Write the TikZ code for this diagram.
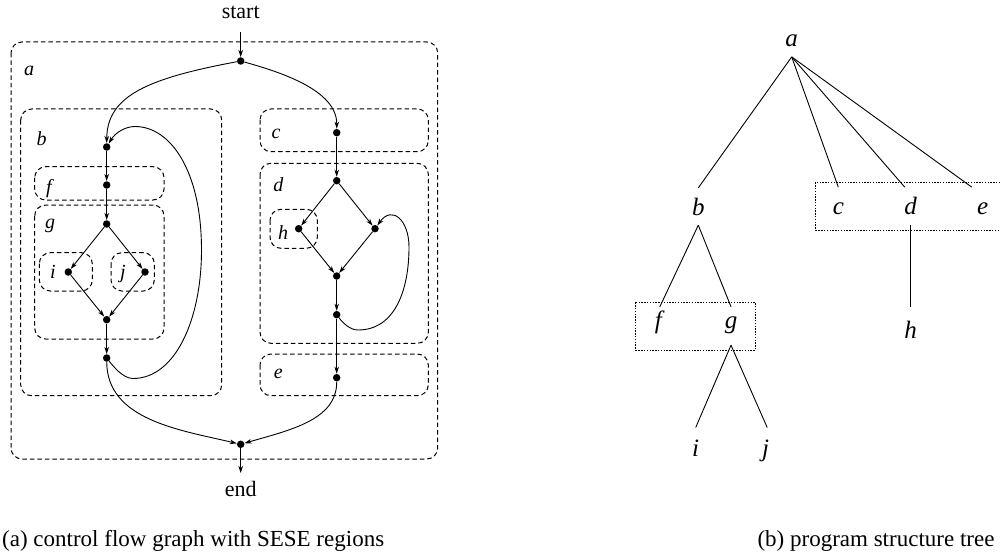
\documentclass[tikz,border=0pt]{standalone}
\usepackage{fontspec}
\setmainfont{Liberation Serif}
\usetikzlibrary{arrows.meta,calc}
\begin{document}
\begin{tikzpicture}[x=1pt,y=-1pt,
  dot/.style={circle,fill=black,inner sep=0pt,minimum size=7.5pt},
  arr/.style={line width=0.9pt,-{Stealth[length=7pt,width=4.5pt,inset=2pt]}},
  region/.style={draw=black,line width=1pt,dash pattern=on 4.5pt off 3pt,rounded corners=11pt},
  tbox/.style={draw=black,line width=0.9pt,dash pattern=on 1.4pt off 1.4pt},
  rlab/.style={font=\fontsize{20}{24}\selectfont\itshape,anchor=base,inner sep=0pt},
  tnode/.style={font=\fontsize{25}{30}\selectfont\itshape,anchor=base,text height=22pt,text depth=5pt,inner xsep=2pt,inner ysep=5pt},
  txt/.style={font=\fontsize{22}{26}\selectfont,anchor=base,inner sep=0pt},
  captxt/.style={font=\fontsize{23}{27}\selectfont,anchor=base,inner sep=0pt},
  tline/.style={line width=0.9pt}]
\clip (0,0) rectangle (1000,559);
\fill[white] (0,0) rectangle (1000,559);
% ---------- regions ----------
\draw[region] (11,42) rectangle (437.7,459);
\draw[region] (20.7,109) rectangle (221.7,395.7);
\draw[region] (34.7,166.7) rectangle (164,200);
\draw[region] (34.7,205) rectangle (164,339);
\draw[region] (39.3,252.7) rectangle (92.3,291);
\draw[region] (111,252.7) rectangle (154.3,291);
\draw[region] (260,109) rectangle (428.3,151.7);
\draw[region] (260,163.3) rectangle (428.3,343.3);
\draw[region] (270,209.3) rectangle (317.3,248.3);
\draw[region] (260,354) rectangle (428.3,395.7);
% region labels
\node[rlab] (la) at (29,75.5) {a};
\node[rlab] (lb) at (41.7,145.5) {b};
\node[rlab] (lf) at (49,193) {f};
\node[rlab] (lg) at (50,228.5) {g};
\node[rlab] (li) at (53,278) {i};
\node[rlab] (lj) at (123,278) {j};
\node[rlab] (lc) at (276,138.5) {c};
\node[rlab] (ld) at (278.3,191) {d};
\node[rlab] (lh) at (283,239.5) {h};
\node[rlab] (le) at (278.3,378.5) {e};
% ---------- CFG nodes ----------
\node[txt] (start) at (240.7,18.5) {start};
\node[txt] (endt) at (240.7,496.5) {end};
\coordinate (s0) at (240.7,32);
\coordinate (e0) at (240.7,473);
\node[dot] (n0) at (240.7,61) {};
\node[dot] (b1) at (106.7,147) {};
\node[dot] (f1) at (106.7,185) {};
\node[dot] (g1) at (106.7,224) {};
\node[dot] (i1) at (68.3,272) {};
\node[dot] (j1) at (145,272) {};
\node[dot] (g2) at (106.7,319.7) {};
\node[dot] (b2) at (106.7,358) {};
\node[dot] (c1) at (336.7,132.7) {};
\node[dot] (d1) at (336.7,180.7) {};
\node[dot] (h1) at (298.7,228.7) {};
\node[dot] (d2) at (375,228.7) {};
\node[dot] (d3) at (336.7,276) {};
\node[dot] (d4) at (336.7,314.7) {};
\node[dot] (e1) at (336.7,377.7) {};
\node[dot] (x1) at (240.7,444.3) {};
\coordinate (q1) at (133,378.5);
\coordinate (q2) at (201.5,250);
\coordinate (q3) at (135,126.5);
\coordinate (r1) at (358,330);
\coordinate (r2) at (409,247);
% ---------- CFG edges ----------
\draw[arr] (s0) -- (n0);
\draw[arr] (n0) .. controls (150,78) and (107,95) .. (b1);
\draw[arr] (n0) .. controls (280,72) and (337,90) .. (c1);
\draw[arr] (b1) -- (f1);
\draw[arr] (f1) -- (g1);
\draw[arr] (g1) -- (i1);
\draw[arr] (g1) -- (j1);
\draw[arr] (i1) -- (g2);
\draw[arr] (j1) -- (g2);
\draw[arr] (g2) -- (b2);
\draw[arr] (b2) .. controls (113,366) and (123,378.5) .. (q1)
  .. controls (175,378.5) and (201.5,320) .. (q2)
  .. controls (201.5,170) and (170,126.5) .. (q3)
  .. controls (125,126.5) and (115,133) .. (b1);
\draw[arr] (c1) -- (d1);
\draw[arr] (d1) -- (h1);
\draw[arr] (d1) -- (d2);
\draw[arr] (h1) -- (d3);
\draw[arr] (d2) -- (d3);
\draw[arr] (d3) -- (d4);
\draw[arr] (d4) .. controls (343,323) and (350,330) .. (r1)
  .. controls (395,330) and (409,290) .. (r2)
  .. controls (409,220) and (392,205) .. (d2);
\draw[arr] (d4) -- (e1);
\draw[arr] (b2) .. controls (107,420) and (180,430) .. (x1);
\draw[arr] (e1) .. controls (337,420) and (290,430) .. (x1);
\draw[arr] (x1) -- (e0);
% ---------- tree ----------
\node[tnode] (ta) at (791.7,46.7) {a};
\node[tnode] (tb) at (698.3,215) {b};
\node[tnode] (tc) at (838.3,214.3) {c};
\node[tnode] (td) at (910.7,214.3) {d};
\node[tnode] (te) at (982.7,214.3) {e};
\node[tnode] (tf) at (658.3,328) {f};
\node[tnode] (tg) at (731,328) {g};
\node[tnode] (th) at (910.7,338.3) {h};
\node[tnode] (ti) at (695.7,456.7) {i};
\node[tnode] (tj) at (765.7,456.7) {j};
\draw[tbox] (815.7,182.3) rectangle (1010,230);
\draw[tbox] (635.7,302.3) rectangle (755.3,350);
\draw[tline] (ta.south) -- (tb.north);
\draw[tline] (ta.south) -- (tc.north);
\draw[tline] (ta.south) -- ([xshift=-6pt]td.north);
\draw[tline] (ta.south) -- ([xshift=-11pt]te.north);
\draw[tline] (tb.south) -- ([xshift=1.5pt,yshift=-6pt]tf.north);
\draw[tline] (tb.south) -- ([yshift=-6pt]tg.north);
\draw[tline] (td.south) -- ([yshift=4pt]th.north);
\draw[tline] ([yshift=-7pt]tg.south) -- ([yshift=2pt]ti.north);
\draw[tline] ([yshift=-7pt]tg.south) -- ([xshift=1.5pt,yshift=2pt]tj.north);
% ---------- captions ----------
\node[captxt,anchor=base west] (capa) at (2,546) {(a) control flow graph with SESE regions};
\node[captxt] (capb) at (876,546) {(b) program structure tree};
\end{tikzpicture}
\end{document}
